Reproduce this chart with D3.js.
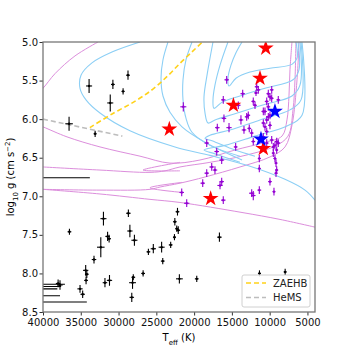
<!DOCTYPE html>
<html>
<head>
<meta charset="utf-8">
<script src="https://cdn.jsdelivr.net/npm/d3@7"></script>
<style>
body { margin: 0; background: #fff; }
svg { display: block; }
text { font-family: "DejaVu Sans", sans-serif; }
</style>
</head>
<body>
<div id="chart"></div>
<script>
// ---- data (Teff in K, log g) ----
var xTicks = [40000, 35000, 30000, 25000, 20000, 15000, 10000, 5000];
var yTicks = [5.0, 5.5, 6.0, 6.5, 7.0, 7.5, 8.0, 8.5];

// black sample: Teff, logg, Teff err, logg err
var blackPts = [
  [33900,5.57,400,0.09],[30750,5.55,250,0.06],[28750,5.43,250,0.06],[29400,5.64,200,0.04],
  [31100,5.79,400,0.11],[36550,6.06,500,0.09],[33100,6.19,200,0.04],
  [36500,7.46,250,0.04],[32000,7.29,400,0.09],[28700,7.22,300,0.05],[31450,7.52,300,0.06],
  [31250,7.55,250,0.05],[28500,7.45,350,0.08],[27900,7.57,400,0.07],[32350,7.66,500,0.13],
  [33250,7.82,300,0.05],[34350,7.96,350,0.07],[34200,8.01,250,0.05],[34300,8.09,250,0.05],
  [31800,8.12,300,0.06],[31200,8.09,350,0.07],[28050,8.05,250,0.04],[28150,8.12,450,0.08],
  [28250,8.31,300,0.06],[26750,8.00,250,0.04],[37750,8.15,350,0.06],[38000,8.13,300,0.05],
  [35100,8.20,350,0.05],[34750,8.27,300,0.05],[26050,7.72,250,0.04],[25400,7.68,350,0.06],
  [24300,7.66,400,0.07],[24150,7.84,250,0.04],[23100,7.63,250,0.04],[22600,7.53,200,0.04],
  [22550,7.33,250,0.05],[22200,7.20,250,0.05],[22300,7.42,200,0.04],[22100,7.44,250,0.05],
  [21950,8.07,450,0.06],[16650,7.53,300,0.06],[19650,8.07,250,0.04],[11350,8.00,200,0.04],
  [7950,7.98,200,0.04],
  // hot objects beyond the plotted range, only their Teff errors reach in
  [46000,6.76,12200,0],[46000,8.14,8900,0],[46000,8.17,8400,0],[46000,8.20,7900,0],
  [46000,8.29,8250,0],[46000,8.37,11800,0]
];

// purple sample
var purplePts = [
  [15690,5.49,300,0.05],[21430,5.84,400,0.06],[13570,5.67,300,0.05],[11720,5.58,250,0.05],
  [11500,5.62,250,0.05],[11810,5.66,250,0.04],[16140,5.75,300,0.05],[14150,5.82,300,0.05],
  [12170,5.77,250,0.05],[11940,5.82,250,0.05],[16050,5.99,300,0.05],[13800,6.01,300,0.06],
  [12830,5.95,250,0.05],[16930,6.11,300,0.05],[15380,6.11,350,0.06],[13400,6.14,300,0.05],
  [12700,6.12,250,0.05],[12380,6.18,250,0.05],[18330,6.31,300,0.05],[14500,6.36,250,0.05],
  [17010,6.42,300,0.05],[16350,6.53,300,0.05],[17670,6.62,300,0.05],[17240,6.66,300,0.05],
  [18330,6.70,300,0.05],[18860,6.83,300,0.05],[16350,6.81,300,0.05],[16570,6.86,350,0.05],
  [16140,7.05,300,0.05],[21640,6.95,300,0.05],[20980,7.09,350,0.05],[12380,6.96,350,0.05],
  [12170,6.99,300,0.06],[11370,6.92,250,0.05],[11370,6.51,200,0.05],[11370,6.64,200,0.05],
  [9960,6.81,250,0.05],[9430,6.94,200,0.05],[9300,6.51,200,0.05],[9160,6.57,200,0.05],
  [9070,6.66,200,0.05],[9160,6.70,200,0.05],[9520,6.44,200,0.05],[9070,6.40,200,0.05],
  [12170,6.29,250,0.05],[9300,6.34,200,0.05],[8860,6.31,250,0.05],
  [10180,5.67,250,0.05],[9960,5.71,250,0.05],[10390,5.77,250,0.05],[9730,5.73,250,0.05],
  [8860,5.75,250,0.05],[10840,5.90,250,0.05],[10180,5.84,250,0.05],[9960,5.95,250,0.05],
  [10390,6.01,250,0.05],[10620,6.10,250,0.05],[9960,6.08,250,0.05],[10390,6.16,250,0.05],
  [10840,6.23,250,0.05],[9730,6.27,250,0.05],[9520,6.36,250,0.05],[10390,6.31,250,0.05],
  [9730,5.62,250,0.05],[10620,5.90,250,0.05],[10180,5.97,250,0.05],[10840,6.05,250,0.05],
  [9070,6.29,250,0.05],[13040,5.97,250,0.05]
];

var redStars = [[10520,5.08],[11280,5.47],[14800,5.82],[23280,6.13],[10840,6.38],[17810,7.03]];
var blueStars = [[9300,5.90],[11150,6.26]];

var zaehb = [[33800,6.11],[30800,5.93],[27850,5.77],[25450,5.61],[23500,5.44],[21900,5.28],[20300,5.13],[18900,5.0]];
var hems = [[40000,6.0],[29500,6.22]];

// evolutionary tracks (blue)
var blueTracks = [
  [[27160,5.00],[30870,5.13],[33520,5.27],[34970,5.43],[35100,5.60],[34310,5.75],[32460,5.92],
   [28490,6.15],[22530,6.36],[17900,6.47],[12600,6.61],[7970,6.78],[5320,6.92],[4000,7.05]],
  [[23460,5.00],[24120,5.23],[24380,5.47],[24120,5.70],[23190,5.91],[21600,6.10],[18560,6.30],[13660,6.53]],
  [[20280,5.00],[21070,5.23],[21470,5.49],[21470,5.75],[21070,5.99],[20280,6.17],[17900,6.34],[13930,6.48]],
  [[6520,5.00],[6380,5.21],[7050,5.29],[9960,5.34],[12600,5.39],[14460,5.47],[15380,5.57],
   [15520,5.47],[15120,5.30],[14460,5.14],[13660,5.00]],
  [[6250,5.00],[6120,5.36],[6910,5.49],[10620,5.60],[13930,5.70],[16310,5.78],[17370,5.86],
   [17500,5.75],[17240,5.56],[16570,5.30],[15520,5.00]],
  [[5990,5.00],[5990,5.56],[7050,5.70],[11020,5.82],[14590,5.93],[17240,6.01],[18160,6.05],
   [18560,5.92],[18690,5.71],[18290,5.43],[17500,5.00]],
  [[5850,5.00],[5850,5.75],[7310,5.88],[11280,6.01],[15250,6.14],[17900,6.21],[18560,6.25],
   [17630,6.28],[14590,6.40],[11940,6.48]],
  [[5720,5.00],[5720,5.95],[7710,6.09],[11940,6.22],[15910,6.34],[18160,6.38],[18690,6.40],
   [17240,6.45],[13930,6.56]]
];

// evolutionary tracks (pink)
var pinkTracks = [
  [[32720,5.00],[35760,5.18],[38410,5.41],[40000,5.60],[41060,5.70]],
  [[41060,6.06],[40000,6.10],[36820,6.23],[32460,6.36],[27160,6.48],[23190,6.57],[19220,6.53],
   [14590,6.40],[10620,6.30],[8370,6.22],[7710,6.01],[7440,5.69],[7310,5.36],[7050,5.00]],
  [[40000,6.62],[32460,6.66],[25840,6.69],[23850,6.67],[21870,6.62],[17900,6.56],[13260,6.47],
   [9300,6.35],[7570,6.22],[6910,5.88],[6650,5.49],[6520,5.00]],
  [[40000,6.91],[32460,6.92],[25840,6.91],[24510,6.88],[21870,6.83],[18560,6.75],[13930,6.62],
   [9960,6.49],[7970,6.36],[7050,6.08],[6380,5.49],[6120,5.00]],
  [[40000,6.91],[32460,6.97],[25840,7.04],[21870,7.08],[13660,7.21],[8630,7.30],[4000,7.40]],
  [[21870,6.56],[26760,6.66],[21870,6.67]],
  [[21600,6.82],[25840,6.89],[21600,6.95]]
];

// ---- drawing ----
var W = 350, H = 350;
var margin = { top: 42, right: 35, bottom: 38, left: 43 };

var svg = d3.select("#chart").append("svg")
    .attr("width", W)
    .attr("height", H);

var x = d3.scaleLinear().domain([40000, 4000]).range([margin.left, W - margin.right]);
var y = d3.scaleLinear().domain([5.0, 8.5]).range([margin.top, H - margin.bottom]);

svg.append("clipPath").attr("id", "plotclip")
  .append("rect")
    .attr("x", x.range()[0]).attr("y", y.range()[0])
    .attr("width", x.range()[1] - x.range()[0])
    .attr("height", y.range()[1] - y.range()[0]);

var plot = svg.append("g").attr("clip-path", "url(#plotclip)");

var line = d3.line()
    .x(function(d) { return x(d[0]); })
    .y(function(d) { return y(d[1]); })
    .curve(d3.curveCatmullRom.alpha(0.5));

plot.selectAll(".ptrack").data(pinkTracks).enter().append("path")
    .attr("d", line)
    .style("fill", "none")
    .style("stroke", "#dc8edc")
    .style("stroke-width", 1);

plot.selectAll(".btrack").data(blueTracks).enter().append("path")
    .attr("d", line)
    .style("fill", "none")
    .style("stroke", "#8ccff5")
    .style("stroke-width", 1.1);

plot.append("path").datum(zaehb)
    .attr("d", line)
    .style("fill", "none")
    .style("stroke", "#ffd21a")
    .style("stroke-width", 1.6)
    .style("stroke-dasharray", "5,3");

plot.append("path").datum(hems)
    .attr("d", d3.line().x(function(d) { return x(d[0]); }).y(function(d) { return y(d[1]); }))
    .style("fill", "none")
    .style("stroke", "#bdbdbd")
    .style("stroke-width", 1.6)
    .style("stroke-dasharray", "5,3");

function drawErr(data, color, r) {
    var g = plot.append("g");
    var pts = g.selectAll("g").data(data).enter().append("g");
    pts.append("line")
        .attr("x1", function(d) { return x(d[0] - d[2]); })
        .attr("x2", function(d) { return x(d[0] + d[2]); })
        .attr("y1", function(d) { return y(d[1]); })
        .attr("y2", function(d) { return y(d[1]); })
        .style("stroke", color).style("stroke-width", 1.1);
    pts.append("line")
        .attr("x1", function(d) { return x(d[0]); })
        .attr("x2", function(d) { return x(d[0]); })
        .attr("y1", function(d) { return y(d[1] - d[3]); })
        .attr("y2", function(d) { return y(d[1] + d[3]); })
        .style("stroke", color).style("stroke-width", 1.1);
    pts.append("circle")
        .attr("cx", function(d) { return x(d[0]); })
        .attr("cy", function(d) { return y(d[1]); })
        .attr("r", r)
        .style("fill", color);
}
drawErr(blackPts, "#000", 1.2);
drawErr(purplePts, "#9400d3", 1.2);

var star = d3.symbol().type(d3.symbolStar).size(78);
plot.selectAll(".rstar").data(redStars).enter().append("path")
    .attr("d", star)
    .attr("transform", function(d) { return "translate(" + x(d[0]) + "," + y(d[1]) + ")"; })
    .style("fill", "#ff0000");
plot.selectAll(".bstar").data(blueStars).enter().append("path")
    .attr("d", star)
    .attr("transform", function(d) { return "translate(" + x(d[0]) + "," + y(d[1]) + ")"; })
    .style("fill", "#0000ff");

// axes
var xAxis = d3.axisBottom(x).tickValues(xTicks).tickSize(3.5).tickPadding(3.5).tickFormat(d3.format("d"));
var yAxis = d3.axisLeft(y).tickValues(yTicks).tickSize(3.5).tickPadding(1.5).tickFormat(d3.format(".1f"));

var gx = svg.append("g")
    .attr("transform", "translate(0," + y.range()[1] + ")")
    .call(xAxis);
var gy = svg.append("g")
    .attr("transform", "translate(" + x.range()[0] + ",0)")
    .call(yAxis);
[gx, gy].forEach(function(g) {
    g.select(".domain").remove();
    g.selectAll("line").style("stroke", "#333");
    g.selectAll("text").style("font-size", "10px").style("fill", "#111")
        .style("font-family", "DejaVu Sans, sans-serif");
});
gy.selectAll(".tick text").attr("dy", "0.3em");

svg.append("rect")
    .attr("x", x.range()[0]).attr("y", y.range()[0])
    .attr("width", x.range()[1] - x.range()[0])
    .attr("height", y.range()[1] - y.range()[0])
    .style("fill", "none")
    .style("stroke", "#777")
    .style("stroke-width", 1.3);

// axis labels
var xl = svg.append("text")
    .attr("x", (x.range()[0] + x.range()[1]) / 2)
    .attr("y", 341)
    .attr("text-anchor", "middle")
    .style("font-size", "10px");
xl.append("tspan").text("T");
xl.append("tspan").attr("baseline-shift", "sub").style("font-size", "7px").text("eff");
xl.append("tspan").text(" (K)");

var yl = svg.append("text")
    .attr("transform", "translate(14," + ((y.range()[0] + y.range()[1]) / 2) + ") rotate(-90)")
    .attr("text-anchor", "middle")
    .style("font-size", "10px");
yl.append("tspan").text("log");
yl.append("tspan").attr("baseline-shift", "sub").style("font-size", "7px").text("10");
yl.append("tspan").text(" g (cm s");
yl.append("tspan").attr("baseline-shift", "super").style("font-size", "7px").text("\u22122");
yl.append("tspan").text(")");

// legend
var legendItems = [
  { label: "ZAEHB", color: "#ffd21a" },
  { label: "HeMS", color: "#bdbdbd" }
];
var lg = svg.append("g").attr("transform", "translate(242,275)");
lg.append("rect")
    .attr("width", 68).attr("height", 32).attr("rx", 2)
    .style("fill", "#fff").style("fill-opacity", 0.85)
    .style("stroke", "#d0d0d0");
var li = lg.selectAll(".li").data(legendItems).enter().append("g")
    .attr("transform", function(d, i) { return "translate(0," + (8 + i * 14.5) + ")"; });
li.append("line")
    .attr("x1", 4).attr("x2", 24)
    .style("stroke", function(d) { return d.color; })
    .style("stroke-width", 1.6)
    .style("stroke-dasharray", "5,3");
li.append("text")
    .attr("x", 31).attr("y", 3.5)
    .style("font-size", "10px")
    .style("fill", "#222")
    .text(function(d) { return d.label; });
</script>
</body>
</html>
